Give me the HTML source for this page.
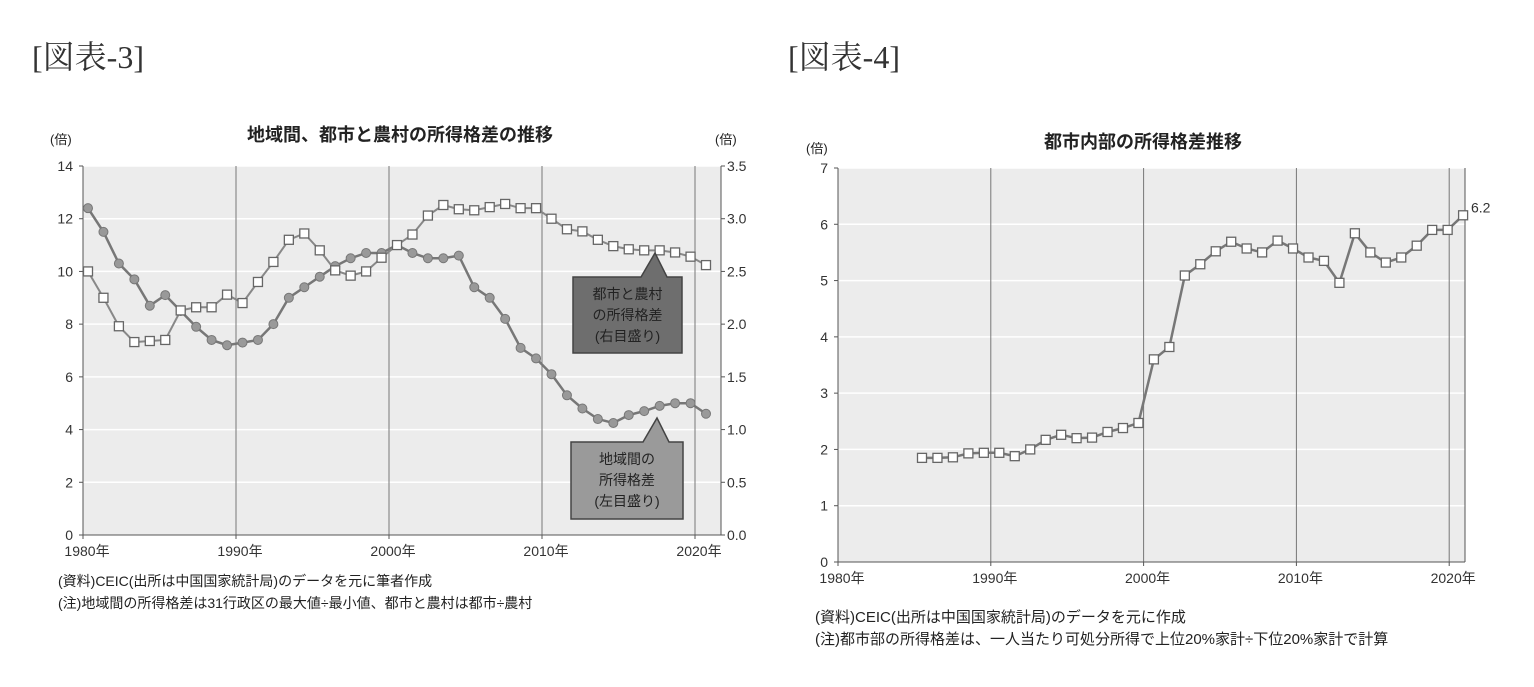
<!DOCTYPE html>
<html><head><meta charset="utf-8"><style>
body{margin:0;background:#fff;width:1534px;height:687px;overflow:hidden}
svg{display:block}
text{font-family:"Liberation Sans","Noto Sans CJK JP",sans-serif;fill:#222}
.ser{font-family:"Liberation Serif","Noto Serif CJK SC",serif;fill:#333}
.tk{font-size:14px;fill:#333}
</style></head><body>
<svg id="s" width="1534" height="687" xmlns="http://www.w3.org/2000/svg">
<text class="ser" x="32" y="68" font-size="32">[図表-3]</text>
<text class="ser" x="788" y="68" font-size="32">[図表-4]</text>
<text x="400" y="141" font-size="18" font-weight="bold" text-anchor="middle">地域間、都市と農村の所得格差の推移</text>
<text x="1143" y="148" font-size="18" font-weight="bold" text-anchor="middle">都市内部の所得格差推移</text>
<text x="50" y="144" font-size="13">(倍)</text>
<text x="715" y="144" font-size="13">(倍)</text>
<text x="806" y="153" font-size="13">(倍)</text>
<text x="58" y="586" font-size="14">(資料)CEIC(出所は中国国家統計局)のデータを元に筆者作成</text>
<text x="58" y="608" font-size="14">(注)地域間の所得格差は31行政区の最大値÷最小値、都市と農村は都市÷農村</text>
<text x="815" y="622" font-size="15">(資料)CEIC(出所は中国国家統計局)のデータを元に作成</text>
<text x="815" y="644" font-size="15">(注)都市部の所得格差は、一人当たり可処分所得で上位20%家計÷下位20%家計で計算</text>
<g id="c1"></g><g id="c2"></g>
</svg>
<script>
const regionalGap=[12.4,11.5,10.3,9.7,8.7,9.1,8.5,7.9,7.4,7.2,7.3,7.4,8.0,9.0,9.4,9.8,10.2,10.5,10.7,10.7,11.0,10.7,10.5,10.5,10.6,9.4,9.0,8.2,7.1,6.7,6.1,5.3,4.8,4.4,4.25,4.55,4.7,4.9,5.0,5.0,4.6];
const urbanRuralGap=[2.50,2.25,1.98,1.83,1.84,1.85,2.13,2.16,2.16,2.28,2.20,2.40,2.59,2.80,2.86,2.70,2.51,2.46,2.50,2.63,2.75,2.85,3.03,3.13,3.09,3.08,3.11,3.14,3.10,3.10,3.00,2.90,2.88,2.80,2.74,2.71,2.70,2.70,2.68,2.64,2.56];
const urbanQuintileGap=[1.85,1.85,1.86,1.93,1.94,1.94,1.88,2.0,2.17,2.26,2.2,2.21,2.31,2.38,2.47,3.6,3.82,5.09,5.29,5.52,5.69,5.57,5.5,5.71,5.57,5.41,5.35,4.96,5.84,5.5,5.32,5.41,5.62,5.9,5.9,6.16];
const leftTicks=[0,2,4,6,8,10,12,14];
const rightTicks=["0.0","0.5","1.0","1.5","2.0","2.5","3.0","3.5"];
const fig4Ticks=[0,1,2,3,4,5,6,7];
const yearLabels=["1980年","1990年","2000年","2010年","2020年"];
const NS="http://www.w3.org/2000/svg";
function mk(p,t,a){const e=document.createElementNS(NS,t);for(const k in a)e.setAttribute(k,a[k]);p.appendChild(e);return e;}
function chart(g,o){
  const {L,R,T,B,ymax}=o;
  const y=v=>B-(v/ymax)*(B-T);
  const xd=yr=>L+(yr-1980)*o.py;
  let bg=mk(g,'rect',{x:L,y:T,width:R-L,height:B-T,fill:'#ececec'});
  
  
  o.ticks.forEach((t,i)=>{
    const yy=y(i*ymax/(o.ticks.length-1));
    if(i>0){let gl=mk(g,'line',{x1:L,x2:R,y1:yy,y2:yy,stroke:'#fff','stroke-width':1.5});
      
      }
    mk(g,'line',{x1:L-4,x2:L,y1:yy,y2:yy,stroke:'#555'});
    let tx=mk(g,'text',{x:L-10,y:yy+5,'text-anchor':'end',class:'tk'});tx.textContent=t;
    
    
    if(o.rticks){mk(g,'line',{x1:R,x2:R+4,y1:yy,y2:yy,stroke:'#555'});
      let rt=mk(g,'text',{x:R+6,y:yy+5,class:'tk'});rt.textContent=o.rticks[i];
      
      }
  });
  yearLabels.forEach((s,i)=>{
    const xx=xd(1980+i*10);
    if(i>0){let vl=mk(g,'line',{x1:xx,x2:xx,y1:T,y2:B,stroke:'#777'});
      
      }
    mk(g,'line',{x1:xx,x2:xx,y1:B,y2:B+4,stroke:'#555'});
    let tx=mk(g,'text',{x:xx+4,y:B+21,'text-anchor':'middle',class:'tk'});tx.textContent=s;
    
    
  });
  mk(g,'line',{x1:L,x2:L,y1:T,y2:B,stroke:'#555'});
  mk(g,'line',{x1:L,x2:R,y1:B,y2:B,stroke:'#555'});
  mk(g,'line',{x1:R,x2:R,y1:T,y2:B,stroke:'#555'});
  return {y,xd};
}
function series(g,data,xf,yf,shape,name,col,w){
  const pts=data.map((v,i)=>[xf(i),yf(v)]);
  let pl=mk(g,'polyline',{points:pts.map(p=>p.join(',')).join(' '),fill:'none',stroke:col,'stroke-width':w});
  
  
  pts.forEach(p=>{
    let m;
    if(shape==='c')m=mk(g,'circle',{cx:p[0],cy:p[1],r:4.5,fill:'#999',stroke:'#777','stroke-width':1});
    else m=mk(g,'rect',{x:p[0]-4.5,y:p[1]-4.5,width:9,height:9,fill:'#fff',stroke:'#666','stroke-width':1.3});
    
    
  });
}
const g1=document.getElementById('c1');
const a1=chart(g1,{L:83,R:721,T:166,B:535,ymax:14,py:15.3,ticks:leftTicks,rticks:rightTicks});
const yR=v=>535-(v/3.5)*369;
series(g1,regionalGap,i=>88+i*15.45,a1.y,'c','regional-gap','#777',2.5);
series(g1,urbanRuralGap,i=>88+i*15.45,yR,'s','urban-rural-gap','#888',2);
function callout(g,x,y,w,h,px,py,fill,lines,name){
  const p=mk(g,'path',{d:`M${x},${y} H${px-14} L${px},${py} L${px+12},${y} H${x+w} V${y+h} H${x} Z`,fill:fill,stroke:'#444','stroke-width':1.5});
  
  
  lines.forEach((s,i)=>{let t=mk(g,'text',{x:x+w/2,y:y+22+i*21,'text-anchor':'middle','font-size':14,fill:'#fff'});t.textContent=s;
    
    });
}
callout(g1,573,277,109,76,655,253,'#6e6e6e',['都市と農村','の所得格差','(右目盛り)'],'urban-rural-callout');
callout(g1,571,442,112,77,657,418,'#9a9a9a',['地域間の','所得格差','(左目盛り)'],'regional-callout');
const g2=document.getElementById('c2');
const a2=chart(g2,{L:838,R:1465,T:168,B:562,ymax:7,py:15.28,ticks:fig4Ticks});
series(g2,urbanQuintileGap,i=>922+i*15.46,a2.y,'s','urban-quintile-gap','#777',2.5);
let lb=mk(g2,'text',{x:1471,y:a2.y(urbanQuintileGap[urbanQuintileGap.length-1])-3,class:'tk'});
lb.textContent=urbanQuintileGap[urbanQuintileGap.length-1].toFixed(1);


</script>
</body></html>
